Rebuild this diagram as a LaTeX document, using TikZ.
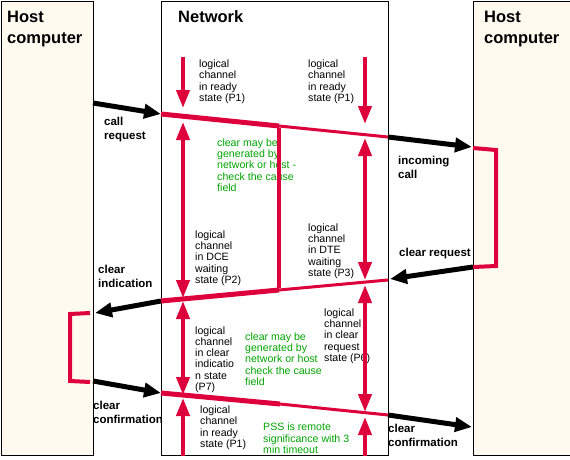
\documentclass[tikz,border=0pt]{standalone}
\usepackage{fontspec}
\setmainfont{Liberation Sans}
\usetikzlibrary{arrows.meta}
\definecolor{pred}{RGB}{222,0,60}
\definecolor{cream}{RGB}{255,250,240}
\definecolor{pgreen}{RGB}{0,165,0}
\begin{document}
\begin{tikzpicture}[x=1pt,y=-1pt,
  hostbox/.style={draw=black,line width=1pt,fill=cream},
  netbox/.style={draw=black,line width=1pt,fill=white},
  title/.style={anchor=base west,inner sep=0pt,align=left,font=\fontsize{16.5}{20.5}\selectfont\bfseries},
  small/.style={anchor=base west,inner sep=0pt,align=left,font=\fontsize{10.6}{11.3}\selectfont},
  gsmall/.style={small,text=pgreen},
  blabel/.style={anchor=base west,inner sep=0pt,align=left,font=\fontsize{11.5}{14}\selectfont\bfseries},
  thickred/.style={draw=pred,line width=5pt},
  thinred/.style={draw=pred,line width=3pt},
  redln/.style={draw=pred,line width=4pt,line join=miter},
  rtip/.tip={Triangle[length=18pt,width=13pt]},
  btip/.tip={Triangle[length=17pt,width=14pt]},
  rdown/.style={draw=pred,line width=4pt,-rtip},
  rboth/.style={draw=pred,line width=4pt,rtip-rtip},
  barr/.style={draw=black,line width=5pt,-btip}]
\useasboundingbox (0,0) rectangle (570,460);
% boxes
\node[hostbox,minimum width=92pt,minimum height=454pt,anchor=north west,inner sep=0pt] (hostL) at (1,1) {};
\node[netbox,minimum width=227pt,minimum height=454pt,anchor=north west,inner sep=0pt] (net) at (161,1) {};
\node[hostbox,minimum width=97pt,minimum height=454pt,anchor=north west,inner sep=0pt] (hostR) at (473,1) {};
% titles (anchor = baseline of last line)
\node[title] (tL) at (7,43.5) {Host\\computer};
\node[title] (tN) at (178,23) {Network};
\node[title] (tR) at (484,43.5) {Host\\computer};
% state texts
\node[small] (s1) at (199,101.5) {logical\\channel\\in ready\\state (P1)};
\node[small] (s2) at (308,101.5) {logical\\channel\\in ready\\state (P1)};
\node[gsmall] (g1) at (217,191.5) {clear may be\\generated by\\network or host -\\check the cause\\field};
\node[small] (s3) at (195,283.5) {logical\\channel\\in DCE\\waiting\\state (P2)};
\node[small] (s4) at (308,276.5) {logical\\channel\\in DTE\\waiting\\state (P3)};
\node[small] (s5) at (195,390.5) {logical\\channel\\in clear\\indicatio\\n state\\(P7)};
\node[gsmall] (g2) at (245,385.5) {clear may be\\generated by\\network or host\\check the cause\\field};
\node[small] (s6) at (324,361.5) {logical\\channel\\in clear\\request\\state (P6)};
\node[small] (s7) at (200,447.5) {logical\\channel\\in ready\\state (P1)};
\node[gsmall] (g3) at (263,453.5) {PSS is remote\\significance with 3\\min timeout};
% black labels
\node[blabel] (b1) at (104,139) {call\\request};
\node[blabel] (b2) at (398,178) {incoming\\call};
\node[blabel] (b3) at (399,256) {clear request};
\node[blabel] (b4) at (98,287) {clear\\indication};
\node[blabel] (b5) at (93,423) {clear\\confirmation};
\node[blabel] (b6) at (388,446) {clear\\confirmation};
% key points
\coordinate (L1a) at (161,114); \coordinate (L1m) at (279,126); \coordinate (L1b) at (388,137);
\coordinate (L2a) at (161,301); \coordinate (L2m) at (279,290); \coordinate (L2b) at (388,280);
\coordinate (L3a) at (161,393); \coordinate (L3m) at (280,404); \coordinate (L3b) at (388,415);
\coordinate (R1) at (473,148); \coordinate (R2) at (496,150); \coordinate (R3) at (496,266); \coordinate (R4) at (473,267);
\coordinate (Q1) at (90,313); \coordinate (Q2) at (70,314); \coordinate (Q3) at (70,381); \coordinate (Q4) at (90,382);
\coordinate (A1s) at (93,103); \coordinate (A3e) at (390,279); \coordinate (A4e) at (95,313); \coordinate (A5s) at (93,381); \coordinate (A6e) at (472,427); \coordinate (A2e) at (472,147);
% red timelines
\draw[thickred] (L1a) -- (L1m);
\draw[thinred] (L1m) -- (L1b);
\draw[thickred] (L2a) -- (L2m);
\draw[thinred] (L2m) -- (L2b);
\draw[thickred] (L3a) -- (L3m);
\draw[thinred] (L3m) -- (L3b);
\draw[redln] ([yshift=-2pt]L1m) -- ([yshift=2pt]L2m);
\draw[redln] (R1) -- (R2) -- (R3) -- (R4);
\draw[redln] (Q1) -- (Q2) -- (Q3) -- (Q4);
% vertical state arrows
\coordinate (c1t) at (183,57); \coordinate (c1a) at (183,108); \coordinate (c1b) at (183,122);
\coordinate (c1c) at (183,298); \coordinate (c1d) at (183,301); \coordinate (c1e) at (183,395);
\coordinate (c1f) at (183,398); \coordinate (c1g) at (183,456);
\coordinate (c2t) at (365,57); \coordinate (c2a) at (365,124); \coordinate (c2b) at (365,138);
\coordinate (c2c) at (365,280); \coordinate (c2d) at (365,285); \coordinate (c2e) at (365,412);
\coordinate (c2f) at (365,417); \coordinate (c2g) at (365,456);
\draw[rdown] (c1t) -- (c1a);
\draw[rboth] (c1b) -- (c1c);
\draw[rboth] (c1d) -- (c1e);
\draw[rdown] (c1g) -- (c1f);
\draw[rdown] (c2t) -- (c2a);
\draw[rboth] (c2b) -- (c2c);
\draw[rboth] (c2d) -- (c2e);
\draw[rdown] (c2g) -- (c2f);
% black message arrows
\draw[barr] (A1s) -- (L1a);
\draw[barr] (L1b) -- (A2e);
\draw[barr] (R4) -- (A3e);
\draw[barr] (L2a) -- (A4e);
\draw[barr] (A5s) -- (L3a);
\draw[barr] (L3b) -- (A6e);
\end{tikzpicture}
\end{document}
